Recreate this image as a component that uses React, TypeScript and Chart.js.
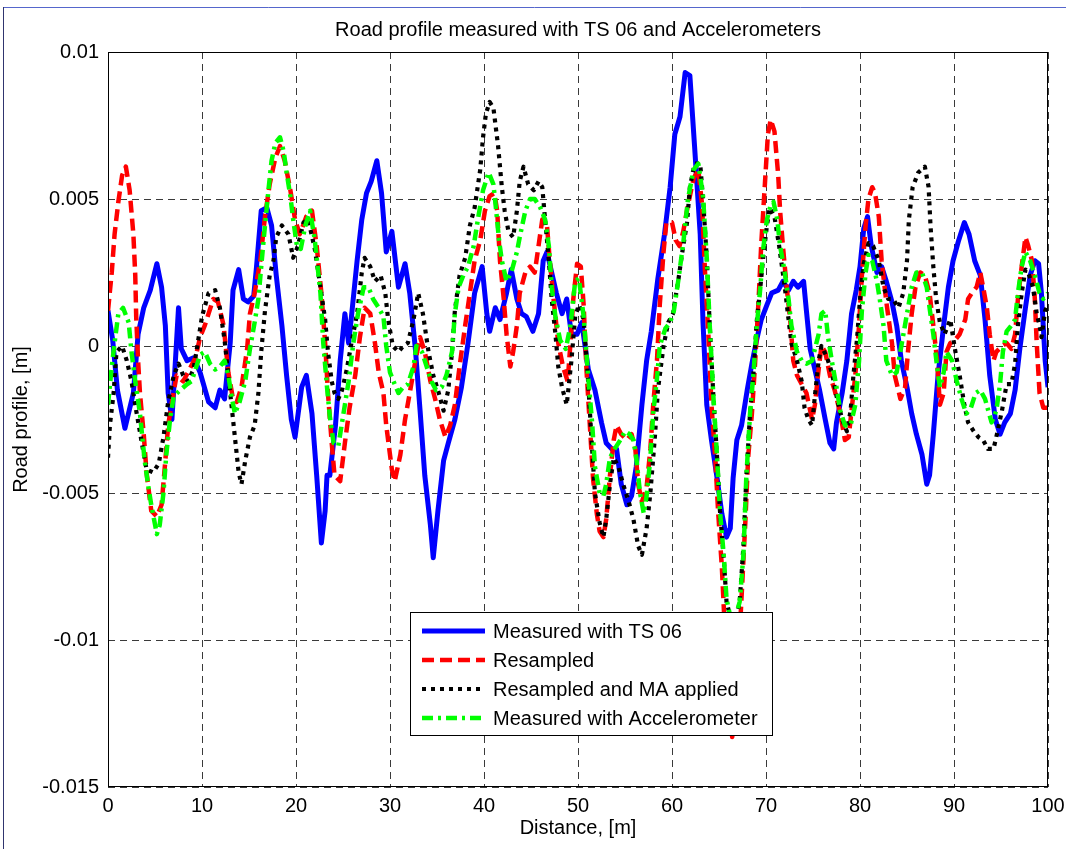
import React, { useEffect, useRef } from 'react';
import { Chart, registerables } from 'chart.js';

Chart.register(...registerables);

// ---------- data (distance [m], road profile [m]) ----------
const measuredTS: [number, number][] = [
  [0, 0.0012], [0.5, 0.0002], [1.0, -0.0015], [1.8, -0.0028], [2.7, -0.0016], [3.2, 0.0004], [3.8, 0.0013], [4.5, 0.0019],
  [5.2, 0.0028], [5.7, 0.002], [6.1, 0.0007], [6.4, -0.0016], [6.8, -0.0025], [7.1, -0.0009], [7.5, 0.0013], [7.8, -0.0001],
  [8.4, -0.0005], [9.1, -0.0004], [9.8, -0.0009], [10.7, -0.0019], [11.4, -0.0021], [11.9, -0.0015], [12.4, -0.0018], [13.0, 0.0001],
  [13.3, 0.0019], [13.9, 0.0026], [14.4, 0.0016], [14.9, 0.0015], [15.5, 0.0017], [15.8, 0.0027], [16.3, 0.0046], [16.9, 0.0047],
  [17.4, 0.0041], [17.9, 0.0024], [18.5, 0.0007], [19.0, -0.001], [19.5, -0.0025], [19.9, -0.0031], [20.6, -0.0014], [21.1, -0.001],
  [21.7, -0.0023], [22.2, -0.0044], [22.7, -0.0067], [23.1, -0.0056], [23.3, -0.0044], [23.6, -0.0044], [24.2, -0.0027], [24.7, -0.0005],
  [25.2, 0.0011], [25.6, 0.0001], [25.9, 0.001], [26.5, 0.0029], [27.0, 0.0043], [27.5, 0.0052], [28.0, 0.0056], [28.6, 0.0063],
  [29.1, 0.0052], [29.6, 0.0032], [30.2, 0.0039], [30.9, 0.002], [31.6, 0.0028], [32.1, 0.0018], [32.7, -0.0001], [33.2, -0.0022],
  [33.7, -0.0044], [34.3, -0.0061], [34.6, -0.0072], [35.1, -0.0056], [35.7, -0.0039], [36.2, -0.0033], [36.9, -0.0025], [37.6, -0.0014],
  [38.3, 0.0001], [39.0, 0.0018], [39.8, 0.0027], [40.3, 0.0011], [40.6, 0.0005], [41.2, 0.0013], [41.7, 0.0009], [42.4, 0.0018],
  [42.9, 0.0026], [43.5, 0.0016], [44.0, 0.0011], [44.5, 0.001], [45.2, 0.0005], [45.8, 0.0011], [46.3, 0.0029], [46.7, 0.0032],
  [47.2, 0.0025], [47.7, 0.0018], [48.3, 0.0011], [48.8, 0.0016], [49.3, 0.0004], [49.9, 0.0004], [50.4, 0.0008], [51.1, -0.0008],
  [51.8, -0.0015], [52.5, -0.0026], [53.0, -0.0033], [53.6, -0.0035], [54.1, -0.0035], [54.6, -0.0047], [55.2, -0.0054], [55.7, -0.0051],
  [56.2, -0.0041], [56.8, -0.002], [57.3, -0.0005], [57.8, 0.0005], [58.5, 0.0023], [59.2, 0.0038], [59.8, 0.0054], [60.3, 0.0072],
  [60.85, 0.0078], [61.4, 0.0093], [61.9, 0.0092], [62.4, 0.0068], [63.0, 0.0038], [63.3, 0.0008], [63.7, -0.002], [64.2, -0.0032],
  [64.8, -0.0045], [65.3, -0.0057], [65.8, -0.0065], [66.2, -0.0062], [66.5, -0.0045], [66.9, -0.0032], [67.4, -0.0027], [68.0, -0.0015],
  [68.5, -0.0006], [69.0, 0.0002], [69.5, 0.0009], [70.1, 0.0014], [70.6, 0.0018], [71.3, 0.0019], [71.8, 0.0022], [72.4, 0.0019],
  [72.9, 0.0022], [73.4, 0.002], [74.0, 0.0022], [74.3, 0.0012], [74.7, -0.0001], [75.2, -0.0008], [75.7, -0.0015], [76.3, -0.0025],
  [76.8, -0.0033], [77.2, -0.0035], [77.5, -0.0026], [78.1, -0.0016], [78.6, -0.0005], [79.1, 0.0011], [79.6, 0.0019], [80.0, 0.0027],
  [80.4, 0.004], [80.8, 0.0044], [81.2, 0.0034], [81.8, 0.0025], [82.3, 0.0027], [82.8, 0.0022], [83.4, 0.0015], [83.9, 0.0007],
  [84.4, -0.0005], [85.0, -0.0014], [85.5, -0.0023], [86.0, -0.003], [86.6, -0.0037], [87.1, -0.0047], [87.4, -0.0044], [87.8, -0.003],
  [88.3, -0.001], [88.9, 0.0007], [89.4, 0.002], [89.9, 0.0029], [90.5, 0.0036], [91.1, 0.0042], [91.6, 0.0038], [92.2, 0.0029],
  [92.8, 0.0024], [93.3, 0.0009], [93.8, -0.001], [94.4, -0.0025], [94.9, -0.003], [95.4, -0.0026], [96.0, -0.0023], [96.5, -0.0015],
  [97.0, -0.0001], [97.6, 0.0013], [98.1, 0.0024], [98.6, 0.0029], [99.0, 0.0028], [99.3, 0.0018], [99.7, -0.0005], [100, -0.0014],
];

const resampled: [number, number][] = [
  [0, 0.0012], [0.4, 0.0025], [0.7, 0.0038], [1.1, 0.0049], [1.5, 0.0058], [1.9, 0.0061], [2.3, 0.0053], [2.7, 0.0038],
  [2.9, 0.0024], [3.0, 0.001], [3.2, -0.0005], [3.4, -0.0016], [3.8, -0.003], [4.1, -0.0043], [4.6, -0.0056], [5.2, -0.0058],
  [5.7, -0.0054], [6.1, -0.0039], [6.4, -0.0027], [6.8, -0.0019], [7.3, -0.001], [8.0, -0.0012], [8.5, -0.0009], [9.3, -0.0004],
  [9.8, 0.0003], [10.3, 0.0007], [11.2, 0.0016], [11.7, 0.0015], [12.3, 0.0007], [12.8, -0.0009], [13.3, -0.0018], [13.7, -0.0019],
  [14.2, -0.0014], [14.8, -0.0001], [15.1, 0.0011], [15.6, 0.0018], [16.2, 0.0029], [16.7, 0.0044], [17.2, 0.0055], [17.8, 0.0064],
  [18.3, 0.0068], [18.8, 0.0063], [19.4, 0.0053], [19.9, 0.0043], [20.4, 0.0038], [21.1, 0.0044], [21.7, 0.0046], [22.2, 0.0034],
  [22.7, 0.0018], [23.1, 0.0001], [23.4, -0.0016], [23.8, -0.0033], [24.1, -0.0044], [24.7, -0.0046], [25.2, -0.0033], [25.7, -0.0021],
  [26.3, -0.001], [26.8, 0.0003], [27.3, 0.0013], [27.9, 0.0011], [28.4, 0.0001], [28.8, -0.0009], [29.3, -0.0016], [29.6, -0.0027],
  [30.2, -0.0042], [30.5, -0.0046], [31.1, -0.0037], [31.6, -0.0025], [32.1, -0.0016], [32.7, -0.0005], [33.2, 0.0003], [33.7, -0.0002],
  [34.3, -0.0012], [34.8, -0.0018], [35.3, -0.0025], [35.9, -0.0031], [36.4, -0.0027], [36.9, -0.002], [37.4, -0.0007], [38.0, 0.0007],
  [38.5, 0.0018], [39.0, 0.0029], [39.6, 0.0036], [40.1, 0.0046], [40.6, 0.0051], [41.1, 0.0052], [41.4, 0.0046], [41.7, 0.0029],
  [42.1, 0.0016], [42.4, 0.0004], [42.8, -0.0007], [43.1, -0.0002], [43.5, 0.0007], [43.8, 0.0018], [44.4, 0.0025], [44.9, 0.0027],
  [45.4, 0.0025], [45.8, 0.0034], [46.2, 0.0043], [46.7, 0.0041], [47.0, 0.0029], [47.4, 0.0016], [47.9, 0.0001], [48.4, -0.0007],
  [48.9, -0.0012], [49.2, 0.0001], [49.5, 0.0016], [49.9, 0.0028], [50.3, 0.0027], [50.6, 0.0014], [50.9, -0.0008], [51.3, -0.0029],
  [51.6, -0.0045], [52.0, -0.0057], [52.3, -0.0063], [52.7, -0.0065], [53.0, -0.0059], [53.4, -0.0044], [53.8, -0.0032], [54.1, -0.0027],
  [54.6, -0.003], [55.2, -0.0032], [55.7, -0.003], [56.1, -0.0035], [56.4, -0.0047], [56.8, -0.0053], [57.3, -0.0048], [57.7, -0.0035],
  [58.0, -0.002], [58.4, -0.0005], [58.7, 0.0014], [59.1, 0.0032], [59.4, 0.0042], [60.0, 0.0042], [60.4, 0.0036], [60.8, 0.0034],
  [61.2, 0.0039], [61.7, 0.0048], [62.3, 0.0057], [62.8, 0.006], [63.2, 0.0048], [63.5, 0.0026], [63.9, 0.0002], [64.2, -0.002],
  [64.6, -0.0038], [64.9, -0.0056], [65.3, -0.0075], [65.6, -0.0095], [66.0, -0.0113], [66.4, -0.0133], [66.8, -0.0126], [67.2, -0.0098],
  [67.8, -0.006], [68.1, -0.0038], [68.5, -0.0023], [68.8, -0.0008], [69.2, 0.0015], [69.5, 0.0035], [69.9, 0.0056], [70.2, 0.0072],
  [70.5, 0.0077], [70.9, 0.0073], [71.3, 0.0058], [71.5, 0.0046], [71.8, 0.0034], [72.2, 0.002], [72.6, 0.0008], [72.9, -0.0005],
  [73.3, -0.001], [73.8, -0.0013], [74.3, -0.0016], [74.9, -0.0025], [75.2, -0.002], [75.6, -0.0008], [75.9, 0], [76.3, -0.0002],
  [76.8, -0.001], [77.3, -0.0015], [77.9, -0.0023], [78.4, -0.0032], [78.8, -0.0031], [79.1, -0.0022], [79.5, -0.001], [79.9, 0.0007],
  [80.2, 0.0024], [80.6, 0.0041], [80.9, 0.005], [81.3, 0.0054], [81.6, 0.0052], [82.0, 0.0044], [82.3, 0.0029], [82.8, 0.0015],
  [83.4, 0.0001], [83.7, -0.001], [84.3, -0.0018], [84.8, -0.0014], [85.1, -0.0002], [85.5, 0.0011], [85.9, 0.002], [86.4, 0.0025],
  [86.9, 0.0024], [87.4, 0.0018], [87.8, 0.0007], [88.2, -0.0005], [88.5, -0.002], [88.9, -0.0016], [89.2, -0.0002], [89.6, 0.0001],
  [90.1, 0.0002], [90.6, 0.0004], [91.2, 0.0009], [91.5, 0.0016], [91.9, 0.0018], [92.4, 0.002], [92.8, 0.0025], [93.1, 0.002],
  [93.5, 0.0013], [93.8, 0.0004], [94.2, -0.0005], [94.5, -0.0002], [95.1, 0], [95.6, 0.0001], [96.1, -0.0001], [96.5, 0.0004],
  [96.8, 0.0016], [97.2, 0.0027], [97.6, 0.0037], [97.9, 0.0034], [98.3, 0.0029], [98.6, 0.0016], [98.8, 0.0001], [99.1, -0.0016],
  [99.5, -0.0021], [100, -0.0021],
];

const resampledMA: [number, number][] = [
  [0, -0.0038], [0.2, -0.0027], [0.6, -0.0016], [0.9, -0.0002], [1.5, 0], [2.0, -0.0005], [2.5, -0.0012], [3.0, -0.0022],
  [3.6, -0.0033], [4.1, -0.0042], [4.8, -0.0043], [5.4, -0.004], [5.9, -0.0031], [6.4, -0.0019], [7.0, -0.001], [7.5, -0.0006],
  [8.0, -0.001], [8.5, -0.0012], [9.1, -0.0008], [9.6, 0.0002], [10.0, 0.001], [10.7, 0.0018], [11.4, 0.0019], [11.9, 0.0013],
  [12.4, 0.0002], [13.0, -0.0016], [13.5, -0.0031], [13.9, -0.0043], [14.2, -0.0047], [14.6, -0.0039], [15.1, -0.0031], [15.6, -0.0027],
  [16.0, -0.0016], [16.3, -0.0002], [16.7, 0.0012], [17.2, 0.0024], [17.6, 0.0029], [17.9, 0.0037], [18.5, 0.0041], [19.2, 0.0038],
  [19.7, 0.003], [20.2, 0.0034], [20.8, 0.0042], [21.3, 0.0043], [22.0, 0.0033], [22.6, 0.002], [23.1, 0.0009], [23.4, -0.0002],
  [23.8, -0.0012], [24.1, -0.0016], [24.5, -0.0018], [24.9, -0.0015], [25.4, -0.0008], [25.9, 0.0001], [26.5, 0.0011], [27.0, 0.0025],
  [27.3, 0.003], [27.9, 0.0027], [28.4, 0.0022], [29.0, 0.0024], [29.5, 0.0018], [29.8, 0.0009], [30.3, 0], [30.9, -0.0002],
  [31.4, 0], [31.9, 0.0001], [32.5, 0.0009], [33.0, 0.0018], [33.5, 0.0011], [34.1, -0.0002], [34.6, -0.001], [35.1, -0.0015],
  [35.7, -0.0022], [36.2, -0.0015], [36.6, -0.0002], [36.9, 0.0012], [37.4, 0.0024], [38.0, 0.003], [38.5, 0.0041], [39.0, 0.0047],
  [39.6, 0.006], [39.9, 0.0071], [40.2, 0.0079], [40.6, 0.0083], [41.0, 0.0081], [41.5, 0.0068], [41.9, 0.0054], [42.2, 0.0046],
  [42.6, 0.0039], [43.1, 0.0037], [43.5, 0.0046], [43.8, 0.0056], [44.2, 0.0061], [44.7, 0.0055], [45.3, 0.0053], [45.8, 0.0056],
  [46.2, 0.0054], [46.5, 0.0043], [46.9, 0.0029], [47.2, 0.0016], [47.6, 0.0004], [47.9, -0.0007], [48.3, -0.0014], [48.8, -0.002],
  [49.3, -0.0005], [49.7, 0.001], [50.1, 0.0014], [50.6, 0.0009], [51.0, -0.0008], [51.5, -0.0035], [51.8, -0.005], [52.3, -0.006],
  [52.7, -0.0065], [53.0, -0.0059], [53.4, -0.0047], [53.8, -0.0038], [54.3, -0.0041], [54.8, -0.0047], [55.4, -0.0053], [55.9, -0.0059],
  [56.4, -0.0068], [56.8, -0.0071], [57.3, -0.0062], [57.7, -0.005], [58.2, -0.003], [58.5, -0.0015], [59.1, 0], [59.6, 0.0008],
  [60.1, 0.0011], [60.7, 0.0023], [61.1, 0.0032], [61.6, 0.0042], [61.9, 0.0054], [62.4, 0.0062], [63.0, 0.0062], [63.3, 0.005],
  [63.7, 0.003], [64.0, 0.0008], [64.4, -0.0017], [64.8, -0.0038], [65.1, -0.0056], [65.5, -0.0072], [65.8, -0.0087], [66.2, -0.0092],
  [66.7, -0.0095], [67.2, -0.0087], [67.6, -0.0068], [67.9, -0.0045], [68.3, -0.0023], [68.7, -0.0008], [69.0, 0.0008], [69.4, 0.002],
  [69.7, 0.003], [70.1, 0.0041], [70.4, 0.0047], [70.9, 0.0044], [71.4, 0.0034], [72.0, 0.002], [72.4, 0.0009], [72.7, 0.0001],
  [73.3, -0.0005], [73.8, -0.0012], [74.1, -0.0021], [74.5, -0.0025], [74.9, -0.0027], [75.2, -0.0017], [75.6, -0.0005], [75.9, 0],
  [76.5, -0.0004], [77.0, -0.0009], [77.5, -0.0017], [78.1, -0.0025], [78.6, -0.0029], [79.0, -0.0022], [79.3, -0.001], [79.7, 0.0003],
  [80.0, 0.0016], [80.4, 0.0028], [80.9, 0.0035], [81.4, 0.0034], [82.0, 0.0029], [82.5, 0.002], [83.0, 0.0016], [83.5, 0.0016],
  [84.1, 0.0013], [84.6, 0.0018], [85.0, 0.0029], [85.2, 0.0043], [85.6, 0.0054], [86.2, 0.0059], [86.9, 0.0061], [87.3, 0.0054],
  [87.5, 0.0041], [87.8, 0.0027], [88.1, 0.0016], [88.5, 0.0008], [89.0, 0.0004], [89.6, 0.0009], [90.1, -0.0001], [90.6, -0.001],
  [91.1, -0.002], [91.5, -0.0026], [92.1, -0.0029], [92.6, -0.0031], [93.1, -0.0032], [93.6, -0.0035], [94.2, -0.0035], [94.5, -0.0031],
  [95.1, -0.0022], [95.6, -0.0013], [96.1, -0.0013], [96.5, -0.0006], [96.8, 0.0007], [97.2, 0.0018], [97.6, 0.0026], [97.9, 0.0025],
  [98.4, 0.002], [98.8, 0.0011], [99.1, 0.0007], [99.3, 0.0003], [99.7, 0.0012], [100, 0.0014],
];

const accelerometer: [number, number][] = [
  [0, -0.002], [0.4, -0.0007], [0.7, 0.0001], [1.1, 0.0011], [1.6, 0.0013], [2.2, 0.0008], [2.5, -0.0002], [2.9, -0.0012],
  [3.4, -0.0023], [3.9, -0.0039], [4.3, -0.0048], [4.6, -0.0054], [5.2, -0.0064], [5.5, -0.0061], [5.9, -0.005], [6.2, -0.0037],
  [6.6, -0.0025], [7.0, -0.0017], [7.7, -0.0015], [8.4, -0.0013], [8.9, -0.0012], [9.4, -0.0007], [9.8, -0.0003], [10.3, -0.0002],
  [10.85, -0.0006], [11.4, -0.0008], [11.9, -0.0007], [12.4, -0.0005], [12.8, -0.001], [13.2, -0.0018], [13.5, -0.0023], [14.0, -0.0019],
  [14.6, -0.0012], [15.1, -0.0001], [15.6, 0.0008], [16.0, 0.0016], [16.3, 0.0027], [16.7, 0.0041], [17.1, 0.0054], [17.4, 0.0063],
  [17.8, 0.0069], [18.3, 0.0071], [18.7, 0.0066], [19.0, 0.0059], [19.4, 0.0051], [19.7, 0.0043], [20.1, 0.0034], [20.5, 0.0033],
  [21.0, 0.0041], [21.5, 0.0046], [22.0, 0.0036], [22.6, 0.0018], [22.9, 0.0001], [23.3, -0.0014], [23.6, -0.0024], [24.0, -0.0033],
  [24.5, -0.0034], [25.0, -0.0024], [25.6, -0.0012], [26.1, 0.0001], [26.6, 0.0011], [27.2, 0.002], [27.7, 0.002], [28.2, 0.0016],
  [28.8, 0.0013], [29.3, 0.001], [29.6, 0], [30.0, -0.0009], [30.5, -0.0013], [30.9, -0.0016], [31.4, -0.0014], [31.9, -0.0013],
  [32.5, -0.0007], [32.8, 0], [33.4, -0.0002], [33.9, -0.0007], [34.4, -0.0012], [34.9, -0.0015], [35.5, -0.0014], [36.0, -0.001],
  [36.6, -0.0002], [36.9, 0.0011], [37.3, 0.002], [37.8, 0.0024], [38.3, 0.0027], [38.9, 0.0034], [39.4, 0.0044], [39.9, 0.0053],
  [40.5, 0.0059], [41.0, 0.0055], [41.3, 0.0046], [41.6, 0.0036], [41.9, 0.0029], [42.4, 0.0022], [42.9, 0.0025], [43.5, 0.0032],
  [43.8, 0.0037], [44.4, 0.0046], [44.9, 0.005], [45.4, 0.005], [46.0, 0.0047], [46.5, 0.0043], [46.9, 0.0034], [47.2, 0.002],
  [47.6, 0.001], [48.1, 0.0002], [48.7, -0.0001], [49.2, 0.0007], [49.7, 0.0022], [50.1, 0.0023], [50.6, 0.001], [51.1, -0.0011],
  [51.5, -0.0026], [51.8, -0.0041], [52.3, -0.005], [52.7, -0.0051], [53.0, -0.0047], [53.4, -0.0038], [53.9, -0.0035], [54.5, -0.0032],
  [55.0, -0.0029], [55.5, -0.003], [55.9, -0.0032], [56.2, -0.0038], [56.6, -0.005], [57.0, -0.0057], [57.3, -0.0051], [57.7, -0.0038],
  [58.0, -0.0023], [58.4, -0.0011], [58.7, 0], [59.3, 0.0006], [59.8, 0.0008], [60.2, 0.0012], [60.7, 0.0023], [61.2, 0.0035],
  [61.7, 0.005], [62.3, 0.006], [62.8, 0.0062], [63.3, 0.0051], [63.7, 0.003], [64.0, 0.0008], [64.4, -0.0017], [64.8, -0.0038],
  [65.1, -0.0056], [65.5, -0.0071], [65.8, -0.0086], [66.2, -0.0092], [66.7, -0.0093], [67.2, -0.0087], [67.6, -0.0071], [67.9, -0.0045],
  [68.3, -0.0023], [68.7, -0.0008], [69.0, 0.0006], [69.4, 0.002], [69.7, 0.0033], [70.1, 0.0043], [70.5, 0.0048], [70.8, 0.0049],
  [71.2, 0.0043], [71.5, 0.0034], [72.0, 0.0025], [72.4, 0.0016], [72.7, 0.0007], [73.3, -0.0002], [73.8, -0.0005], [74.3, -0.0006],
  [74.9, -0.0005], [75.2, -0.0001], [75.6, 0.0004], [75.9, 0.0011], [76.3, 0.0012], [76.6, 0.0003], [77.0, -0.0005], [77.5, -0.0014],
  [77.9, -0.0022], [78.4, -0.0027], [79.0, -0.0027], [79.5, -0.002], [79.9, -0.0005], [80.2, 0.0012], [80.6, 0.0025], [80.9, 0.0031],
  [81.3, 0.0029], [81.8, 0.0022], [82.1, 0.0016], [82.5, 0.0007], [82.8, -0.0005], [83.4, -0.001], [83.9, -0.0009], [84.4, 0],
  [85.0, 0.0011], [85.5, 0.002], [86.0, 0.0025], [86.6, 0.0025], [87.1, 0.002], [87.4, 0.0013], [87.8, 0.0004], [88.2, -0.0007],
  [88.5, -0.0014], [88.9, -0.0009], [89.2, -0.0002], [89.8, -0.0005], [90.3, -0.0012], [90.8, -0.0018], [91.3, -0.0023], [91.8, -0.0021],
  [92.3, -0.0016], [92.8, -0.0015], [93.3, -0.0018], [94.0, -0.0026], [94.5, -0.0022], [94.9, -0.0013], [95.2, -0.0002], [95.6, 0.0005],
  [96.1, 0.0007], [96.5, 0.0009], [96.8, 0.0018], [97.2, 0.0027], [97.6, 0.0032], [98.1, 0.0029], [98.6, 0.0024], [99.1, 0.0018],
  [99.5, 0.0016], [100, 0.0018],
];

const xTickValues = [0, 10, 20, 30, 40, 50, 60, 70, 80, 90, 100];
const xTickLabels = ['0', '10', '20', '30', '40', '50', '60', '70', '80', '90', '100'];
const yTickValues = [-0.015, -0.01, -0.005, 0, 0.005, 0.01];
const yTickLabels = ['-0.015', '-0.01', '-0.005', '0', '0.005', '0.01'];

const seriesLabels = ['Measured with TS 06', 'Resampled', 'Resampled and MA applied', 'Measured with Accelerometer'];
const chartTitle = 'Road profile measured with TS 06 and Accelerometers';
const xAxisTitle = 'Distance, [m]';
const yAxisTitle = 'Road profile, [m]';

const FONT = '"Liberation Sans", Arial, Helvetica, sans-serif';

const seriesStyles = [
  { color: '#0000ff', dash: [] as number[], width: 5, order: 4 },
  { color: '#ff0000', dash: [12, 6], width: 4.5, order: 3 },
  { color: '#000000', dash: [4, 5], width: 4.2, order: 2 },
  { color: '#00ff00', dash: [11, 5, 3, 5], width: 4.5, order: 1 },
];

const decorPlugin = {
  id: 'matlabDecor',
  beforeDraw(chart: any) {
    const ctx = chart.ctx;
    ctx.save();
    ctx.fillStyle = '#ffffff';
    ctx.fillRect(0, 0, chart.width, chart.height);
    // figure frame
    ctx.lineWidth = 1;
    ctx.strokeStyle = '#5566cc';
    ctx.beginPath();
    ctx.moveTo(3, 7.5);
    ctx.lineTo(chart.width, 7.5);
    ctx.stroke();
    ctx.strokeStyle = '#30356e';
    ctx.beginPath();
    ctx.moveTo(3.5, 7);
    ctx.lineTo(3.5, chart.height);
    ctx.stroke();
    ctx.restore();
  },
  afterDraw(chart: any) {
    const ctx = chart.ctx;
    const ca = chart.chartArea;
    ctx.save();
    // axes box
    ctx.strokeStyle = '#000000';
    ctx.lineWidth = 1;
    ctx.setLineDash([]);
    ctx.strokeRect(Math.round(ca.left) + 0.5, Math.round(ca.top) + 0.5, Math.round(ca.right - ca.left) - 1, Math.round(ca.bottom - ca.top) - 1);

    // title
    ctx.fillStyle = '#000000';
    ctx.font = `20px ${FONT}`;
    ctx.textAlign = 'center';
    ctx.textBaseline = 'alphabetic';
    ctx.fillText(chartTitle, (ca.left + ca.right) / 2, ca.top - 16);

    // legend inside axes
    const lx = ca.left + 302;
    const ly = ca.top + 560;
    const lw = 362;
    const lh = 123;
    ctx.fillStyle = '#ffffff';
    ctx.fillRect(lx, ly, lw, lh);
    ctx.strokeStyle = '#000000';
    ctx.lineWidth = 1;
    ctx.strokeRect(lx + 0.5, ly + 0.5, lw, lh);
    seriesLabels.forEach((label, i) => {
      const st = seriesStyles[i];
      const cy = ly + 19 + i * 29;
      ctx.beginPath();
      ctx.strokeStyle = st.color;
      ctx.lineWidth = st.width;
      ctx.setLineDash(st.dash);
      ctx.moveTo(lx + 12, cy);
      ctx.lineTo(lx + 75, cy);
      ctx.stroke();
      ctx.setLineDash([]);
      ctx.fillStyle = '#000000';
      ctx.font = `20px ${FONT}`;
      ctx.textAlign = 'left';
      ctx.textBaseline = 'middle';
      ctx.fillText(label, lx + 83, cy + 1);
    });
    ctx.restore();
  },
};

export default function App() {
  const canvasRef = useRef<HTMLCanvasElement | null>(null);

  useEffect(() => {
    if (!canvasRef.current) return;
    const sources = [measuredTS, resampled, resampledMA, accelerometer];
    const datasets = sources.map((src, i) => ({
      label: seriesLabels[i],
      data: src.map(([x, y]) => ({ x, y })),
      borderColor: seriesStyles[i].color,
      backgroundColor: seriesStyles[i].color,
      borderWidth: seriesStyles[i].width,
      borderDash: seriesStyles[i].dash,
      borderJoinStyle: 'round' as const,
      pointRadius: 0,
      tension: 0,
      fill: false,
      order: seriesStyles[i].order,
    }));

    const chart = new Chart(canvasRef.current, {
      type: 'line',
      data: { datasets },
      options: {
        responsive: false,
        animation: false,
        devicePixelRatio: 1,
        layout: { padding: { top: 52, right: 18, left: 0, bottom: 0 } },
        plugins: {
          legend: { display: false },
          title: { display: false },
          tooltip: { enabled: false },
        },
        scales: {
          x: {
            type: 'linear',
            min: 0,
            max: 100,
            afterBuildTicks: (scale: any) => {
              scale.ticks = xTickValues.map((v) => ({ value: v }));
            },
            afterFit: (scale: any) => {
              scale.height = 62;
              scale.paddingLeft = 0;
              scale.paddingRight = 0;
            },
            ticks: {
              color: '#000000',
              font: { family: FONT, size: 20 },
              padding: 7,
              maxRotation: 0,
              autoSkip: false,
              callback: (_v: any, idx: number) => xTickLabels[idx],
            },
            grid: { color: '#3a3a3a', lineWidth: 1, drawTicks: false },
            border: { display: false, dash: [7, 5] },
            title: {
              display: true,
              text: xAxisTitle,
              color: '#000000',
              font: { family: FONT, size: 20 },
              padding: { top: 0, bottom: 9 },
            },
          },
          y: {
            type: 'linear',
            min: -0.015,
            max: 0.01,
            afterBuildTicks: (scale: any) => {
              scale.ticks = yTickValues.map((v) => ({ value: v }));
            },
            afterFit: (scale: any) => {
              scale.width = 108;
              scale.paddingTop = 0;
              scale.paddingBottom = 0;
            },
            ticks: {
              color: '#000000',
              font: { family: FONT, size: 20 },
              padding: 9,
              autoSkip: false,
              callback: (_v: any, idx: number) => yTickLabels[idx],
            },
            grid: { color: '#3a3a3a', lineWidth: 1, drawTicks: false },
            border: { display: false, dash: [7, 5] },
            title: {
              display: true,
              text: yAxisTitle,
              color: '#000000',
              font: { family: FONT, size: 20 },
              padding: { top: 9, bottom: 0 },
            },
          },
        },
      },
      plugins: [decorPlugin],
    });
    return () => chart.destroy();
  }, []);

  return (
    <div style={{ position: 'absolute', left: 0, top: 0, width: 1066, height: 849, background: '#ffffff' }}>
      <canvas ref={canvasRef} width={1066} height={849} style={{ display: 'block', width: 1066, height: 849 }} />
    </div>
  );
}
